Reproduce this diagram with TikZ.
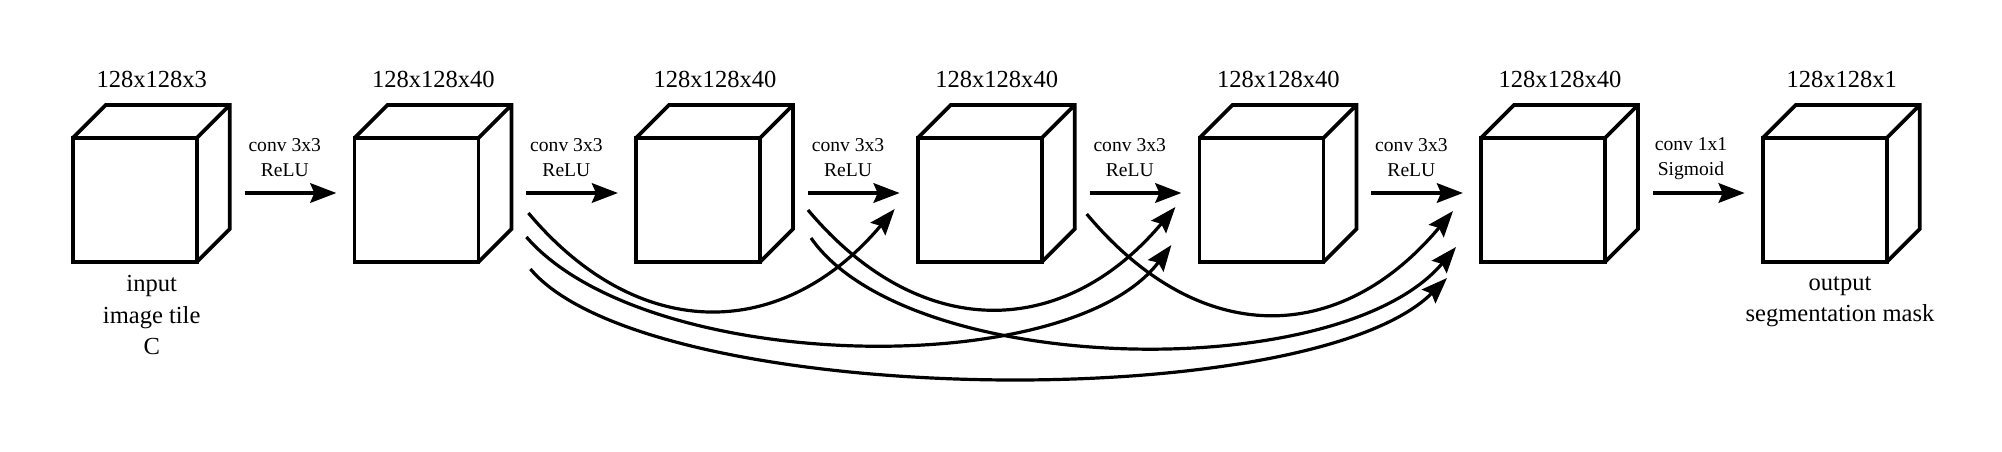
\documentclass[tikz,border=0pt]{standalone}
\usepackage{fontspec}
\setmainfont{Liberation Serif}
\usetikzlibrary{arrows.meta,calc}

\tikzset{every picture/.style={line width=0.75pt}}
\tikzset{
  face/.style={draw, line width=2.8pt, minimum width=93pt, minimum height=93pt, inner sep=0pt, outer sep=0pt},
  edge/.style={line width=2.8pt},
  dimtext/.style={inner sep=0pt, font=\fontsize{18.4}{23.5}\selectfont},
  optext/.style={inner sep=0pt, align=center, font=\fontsize{14.7}{18.75}\selectfont},
  flow/.style={line width=3.2pt, -{Stealth[length=19.5pt, width=14.5pt, inset=3pt]}},
  skip/.style={line width=2.4pt, -{Stealth[length=19.5pt, width=14.5pt, inset=3pt]}}
}

\begin{document}
\begin{tikzpicture}[x=0.75pt,y=0.75pt,yscale=-1,xscale=1]
\useasboundingbox (0,0) rectangle (2002,451); %diagram is 2002 wide, 451 high

%Shape: Cube 1 (input)
\node[face] (c1) at (134.7,200) {};
\draw[edge] (c1.north west) -- ++(33,-33) -- ++(124,0) -- ++(0,124) -- (c1.south east) (c1.north east) -- ++(33,-33);
%Shape: Cube 2
\node[face] (c2) at (416.4,200) {};
\draw[edge] (c2.north west) -- ++(33,-33) -- ++(124,0) -- ++(0,124) -- (c2.south east) (c2.north east) -- ++(33,-33);
%Shape: Cube 3
\node[face] (c3) at (698,200) {};
\draw[edge] (c3.north west) -- ++(33,-33) -- ++(124,0) -- ++(0,124) -- (c3.south east) (c3.north east) -- ++(33,-33);
%Shape: Cube 4
\node[face] (c4) at (979.7,200) {};
\draw[edge] (c4.north west) -- ++(33,-33) -- ++(124,0) -- ++(0,124) -- (c4.south east) (c4.north east) -- ++(33,-33);
%Shape: Cube 5
\node[face] (c5) at (1261.4,200) {};
\draw[edge] (c5.north west) -- ++(33,-33) -- ++(124,0) -- ++(0,124) -- (c5.south east) (c5.north east) -- ++(33,-33);
%Shape: Cube 6
\node[face] (c6) at (1543,200) {};
\draw[edge] (c6.north west) -- ++(33,-33) -- ++(124,0) -- ++(0,124) -- (c6.south east) (c6.north east) -- ++(33,-33);
%Shape: Cube 7 (output)
\node[face] (c7) at (1824.7,200) {};
\draw[edge] (c7.north west) -- ++(33,-33) -- ++(124,0) -- ++(0,124) -- (c7.south east) (c7.north east) -- ++(33,-33);

%Straight Lines
\draw[flow] ($(c1.east)+(48,-7)$) -- ($(c2.west)+(-18,-7)$);
\draw[flow] ($(c2.east)+(48,-7)$) -- ($(c3.west)+(-18,-7)$);
\draw[flow] ($(c3.east)+(48,-7)$) -- ($(c4.west)+(-18,-7)$);
\draw[flow] ($(c4.east)+(48,-7)$) -- ($(c5.west)+(-18,-7)$);
\draw[flow] ($(c5.east)+(48,-7)$) -- ($(c6.west)+(-18,-7)$);
\draw[flow] ($(c6.east)+(48,-7)$) -- ($(c7.west)+(-18,-7)$);

%Curve Lines (skips)
\draw[skip] ($(c2.east)+(50,13)$) .. controls +(111,132) and +(-111,132) .. ($(c4.west)+(-23,9)$);
\draw[skip] ($(c2.east)+(48,37)$) .. controls +(119,137) and +(-103,137) .. ($(c5.west)+(-28,45)$);
\draw[skip] ($(c2.east)+(52,69)$) .. controls +(117,139) and +(-139,139) .. ($(c6.west)+(-34,78)$);
\draw[skip] ($(c3.east)+(48,10)$) .. controls +(112,133) and +(-112,133) .. ($(c5.west)+(-24,7)$);
\draw[skip] ($(c3.east)+(51,38)$) .. controls +(97,139) and +(-117,139) .. ($(c6.west)+(-25,47)$);
\draw[skip] ($(c4.east)+(45,14)$) .. controls +(113,135) and +(-113,135) .. ($(c6.west)+(-28,11)$);

% Text Node
\node[dimtext, anchor=base] (s1) at (151.7,87.7) {128x128x3};
\node[dimtext, anchor=base] (s2) at (433.4,87.7) {128x128x40};
\node[dimtext, anchor=base] (s3) at (715,87.7) {128x128x40};
\node[dimtext, anchor=base] (s4) at (996.7,87.7) {128x128x40};
\node[dimtext, anchor=base] (s5) at (1278.4,87.7) {128x128x40};
\node[dimtext, anchor=base] (s6) at (1560,87.7) {128x128x40};
\node[dimtext, anchor=base] (s7) at (1841.7,87.7) {128x128x1};
% Text Node
\node[optext, anchor=south] (o1) at (284.7,177) {conv 3x3\\ReLU};
\node[optext, anchor=south] (o2) at (566.4,177) {conv 3x3\\ReLU};
\node[optext, anchor=south] (o3) at (848,177) {conv 3x3\\ReLU};
\node[optext, anchor=south] (o4) at (1129.7,177) {conv 3x3\\ReLU};
\node[optext, anchor=south] (o5) at (1411.4,177) {conv 3x3\\ReLU};
\node[optext, anchor=south] (o6) at (1691,180) {conv 1x1\\Sigmoid};
% Text Node
\node[dimtext, align=center, anchor=north] (in) at (151.7,275) {input\\image tile\\C};
\node[dimtext, align=center, anchor=north] (out) at (1840,276) {output\\segmentation mask};

\end{tikzpicture}
\end{document}
